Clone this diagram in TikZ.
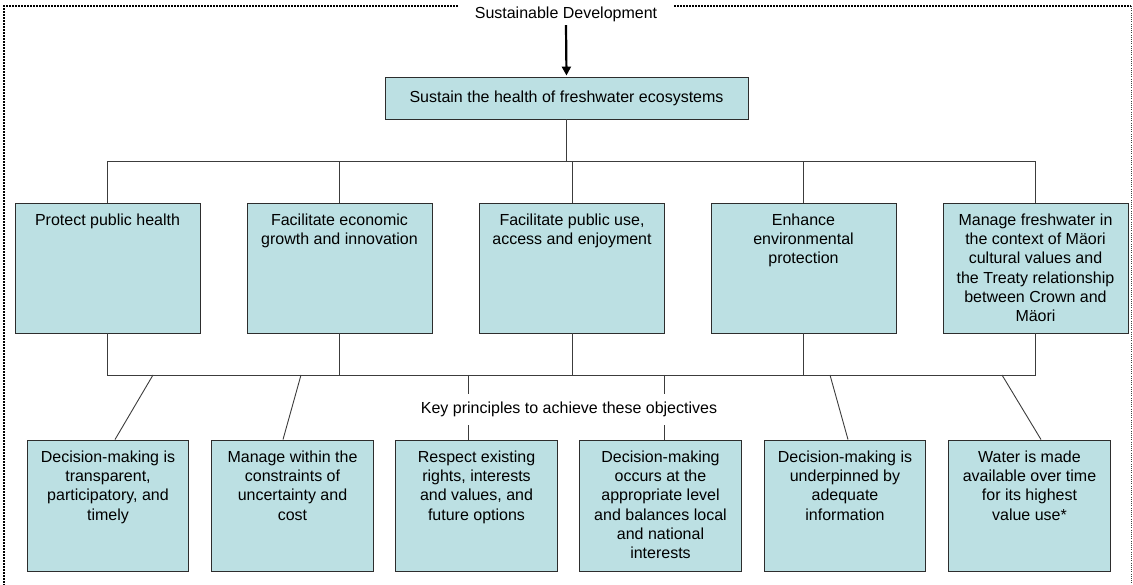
\documentclass[tikz,border=0pt]{standalone}
\usepackage{fontspec}
\setmainfont{Liberation Sans}
\usetikzlibrary{arrows.meta}
\definecolor{boxfill}{RGB}{188,224,227}
\definecolor{edgecol}{RGB}{45,45,45}
\definecolor{linecol}{RGB}{60,60,60}
\newcommand{\boxtxt}[3]{\parbox[c][#1][t]{#2}{\centering\vspace*{8.7pt}\strut #3}}
\begin{document}
\begin{tikzpicture}[x=1pt,y=-1pt,
  every node/.style={font=\fontsize{16}{19.3}\selectfont},
  box/.style={draw=edgecol, fill=boxfill, line width=0.9pt, inner sep=0pt},
  conn/.style={draw=linecol, line width=0.9pt},
  frameA/.style={draw=black, line width=2.2pt, dash pattern=on 1.6pt off 1.4pt},
  frameB/.style={draw=black!75, line width=0.9pt, dash pattern=on 1pt off 1.2pt}]
\useasboundingbox (0,0) rectangle (1133,585);

% frame corners
\coordinate (ftl) at (4,6);
\coordinate (ftr) at (1131,6);
\coordinate (fbl) at (4,585);
\coordinate (fbr) at (1131,585);

% title
\node[inner xsep=17pt, inner ysep=3pt] (title) at (566,14.4) {Sustainable Development};

% top box
\node[box, minimum width=363pt, minimum height=42pt] (top) at (566.5,98)
  {Sustain the health of freshwater ecosystems};

% middle row
\node[box] (m1) at (107.5,268) {\boxtxt{130pt}{185pt}{Protect public health}};
\node[box] (m2) at (339.5,268) {\boxtxt{130pt}{185pt}{Facilitate economic\\ growth and innovation}};
\node[box] (m3) at (572,268) {\boxtxt{130pt}{185pt}{Facilitate public use,\\ access and enjoyment}};
\node[box] (m4) at (803.5,268) {\boxtxt{130pt}{185pt}{Enhance\\ environmental\\ protection}};
\node[box] (m5) at (1035.5,268) {\boxtxt{130pt}{185pt}{Manage freshwater in\\ the context of Mäori\\ cultural values and\\ the Treaty relationship\\ between Crown and\\ Mäori}};

% bottom row
\node[box] (b1) at (108,505.5) {\boxtxt{131pt}{161.5pt}{Decision-making is\\ transparent,\\ participatory, and\\ timely}};
\node[box] (b2) at (292.5,505.5) {\boxtxt{131pt}{161.5pt}{Manage within the\\ constraints of\\ uncertainty and\\ cost}};
\node[box] (b3) at (476.5,505.5) {\boxtxt{131pt}{161.5pt}{Respect existing\\ rights, interests\\ and values, and\\ future options}};
\node[box] (b4) at (660.5,505.5) {\boxtxt{131pt}{161.5pt}{Decision-making\\ occurs at the\\ appropriate level\\ and balances local\\ and national\\ interests}};
\node[box] (b5) at (845,505.5) {\boxtxt{131pt}{161.5pt}{Decision-making is\\ underpinned by\\ adequate\\ information}};
\node[box] (b6) at (1029.5,505.5) {\boxtxt{131pt}{161.5pt}{Water is made\\ available over time\\ for its highest\\ value use*}};

% frame
\draw[frameA] (ftl -| title.west) -- (ftl) -- (fbl);
\draw[frameA] (ftr -| title.east) -- (ftr);
\draw[frameB] (ftr) -- (fbr);

% arrow
\draw[line width=2.2pt, -{Triangle[width=9pt,length=9pt]}, shorten >=1pt] (title.south) -- (top.north);

% buses
\coordinate (busA) at (0,161);
\coordinate (busB) at (0,375);
\draw[conn] (top.south) -- (top.south |- busA);
\draw[conn] (m1.north) -- (m1.north |- busA) -- (m5.north |- busA) -- (m5.north);
\foreach \i in {2,3,4} \draw[conn] (m\i.north) -- (m\i.north |- busA);
\draw[conn] (m1.south) -- (m1.south |- busB) -- (m5.south |- busB) -- (m5.south);
\foreach \i in {2,3,4} \draw[conn] (m\i.south) -- (m\i.south |- busB);

% lines to principles
\coordinate (d1) at (153,375);
\coordinate (d2) at (301,375);
\coordinate (d3) at (468,375);
\coordinate (d4) at (664,375);
\coordinate (d5) at (830,375);
\coordinate (d6) at (1002,375);
\draw[conn] (d1) -- ([xshift=7pt]b1.north);
\draw[conn] (d2) -- ([xshift=-9.5pt]b2.north);
\draw[conn] (d3) -- (d3 |- b3.north);
\draw[conn] (d4) -- (d4 |- b4.north);
\draw[conn] (d5) -- ([xshift=3pt]b5.north);
\draw[conn] (d6) -- ([xshift=11.5pt]b6.north);

\node[fill=white, inner xsep=4pt, inner ysep=8pt] (key) at (569,409.4) {Key principles to achieve these objectives};
\end{tikzpicture}
\end{document}
